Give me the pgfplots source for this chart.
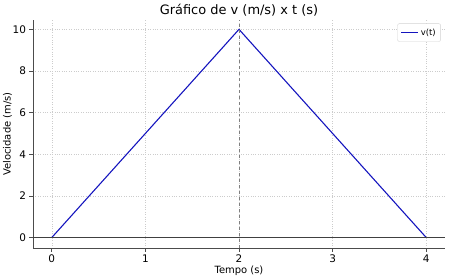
\documentclass[border=0pt]{standalone}
\usepackage{fontspec}
\setmainfont{DejaVu Sans}
\usepackage{pgfplots}
\pgfplotsset{compat=1.18}
\definecolor{lineblue}{RGB}{20,20,190}
\begin{document}
\begin{tikzpicture}
\begin{axis}[
  scale only axis,
  width=412bp, height=228bp,
  xmin=-0.2, xmax=4.2, ymin=-0.5, ymax=10.45,
  axis x line*=bottom, axis y line*=left,
  axis line style={black!70, line width=0.8pt},
  xtick={0,1,2,3,4}, ytick={0,2,4,6,8,10},
  tick align=outside, tick style={black!70, line width=0.6pt},
  major tick length=3.5bp,
  /pgf/number format/assume math mode=true,
  ticklabel style={font=\fontsize{10.5}{12}\selectfont},
  grid=major, grid style={dotted, gray!40, line width=0.45pt},
  title={Gráfico de v (m/s) x t (s)},
  title style={font=\fontsize{13}{15}\selectfont, yshift=-6bp},
  xlabel={Tempo (s)}, ylabel={Velocidade (m/s)},
  label style={font=\fontsize{10}{11}\selectfont},
  xlabel style={yshift=4bp}, ylabel style={yshift=-6bp},
  legend style={at={(0.99,0.985)}, anchor=north east, font=\fontsize{8.5}{10}\selectfont,
    draw=gray!35, rounded corners=2pt, inner xsep=3pt, inner ysep=3pt},
  legend cell align=left,
  legend image code/.code={\draw[draw=lineblue, line width=1.3pt] (0cm,0cm) -- (0.6cm,0cm);},
]
\addplot[color=lineblue, line width=1.1pt] coordinates {(0,0) (2,10) (4,0)};
\addlegendentry{v(t)}
\addplot[black!75, line width=0.7pt, forget plot] coordinates {(-0.2,0) (4.2,0)};
\addplot[gray, dashed, line width=0.7pt, forget plot] coordinates {(2,-0.5) (2,10.45)};
\end{axis}
\pgfresetboundingbox
\path[use as bounding box] ([xshift=-33bp,yshift=-31bp]current axis.south west) rectangle ([xshift=5bp,yshift=20bp]current axis.north east);
\end{tikzpicture}
\end{document}
